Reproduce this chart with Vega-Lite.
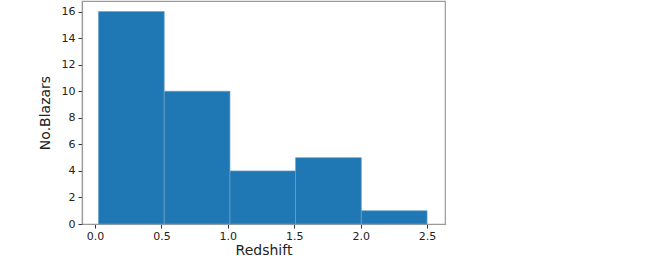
{
  "$schema": "https://vega.github.io/schema/vega-lite/v6.json",
  "autosize": "none",
  "width": 363,
  "height": 223,
  "padding": {"left": 82, "top": 1, "right": 205, "bottom": 48},
  "background": "white",
  "config": {
    "view": {"stroke": "#9a9a9a", "strokeWidth": 1.2},
    "axis": {
      "labelFont": "DejaVu Sans",
      "titleFont": "DejaVu Sans",
      "labelFontSize": 11,
      "titleFontSize": 14,
      "titleFontWeight": "normal",
      "labelColor": "#222",
      "titleColor": "#222",
      "domainColor": "#9a9a9a",
      "domainWidth": 1.2,
      "tickColor": "#333",
      "tickSize": 4,
      "grid": false
    }
  },
  "data": {
    "values": [
      {"lo": 0.026, "hi": 0.521, "n": 16},
      {"lo": 0.521, "hi": 1.016, "n": 10},
      {"lo": 1.016, "hi": 1.51, "n": 4},
      {"lo": 1.51, "hi": 2.005, "n": 5},
      {"lo": 2.005, "hi": 2.5, "n": 1}
    ]
  },
  "mark": {"type": "bar", "color": "#1f77b4", "stroke": "#6b9fcb", "strokeWidth": 0.7},
  "encoding": {
    "x": {
      "field": "lo", "type": "quantitative",
      "scale": {"domain": [-0.098, 2.635], "nice": false, "zero": false},
      "axis": {"title": "Redshift", "values": [0, 0.5, 1, 1.5, 2, 2.5], "format": ".1f", "labelPadding": 2, "titlePadding": 2}
    },
    "x2": {"field": "hi"},
    "y": {
      "field": "n", "type": "quantitative",
      "scale": {"domain": [0, 16.8], "nice": false},
      "axis": {"title": "No.Blazars", "values": [0, 2, 4, 6, 8, 10, 12, 14, 16], "labelPadding": 3, "titlePadding": 9}
    },
    "y2": {"datum": 0}
  }
}
